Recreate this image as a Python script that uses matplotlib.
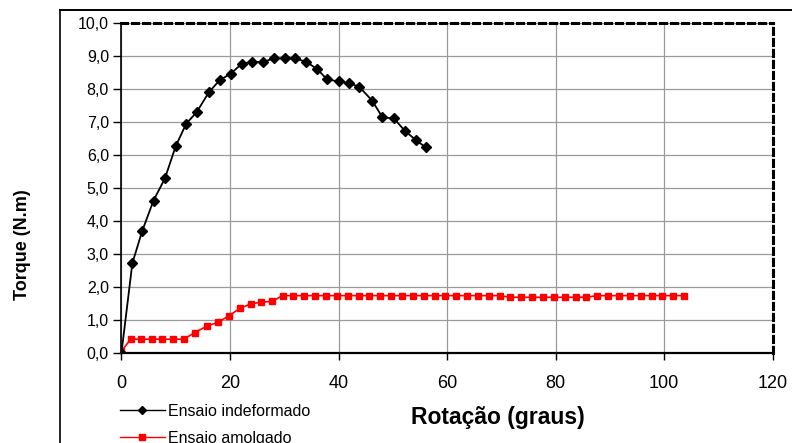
import matplotlib
matplotlib.use("Agg")
import matplotlib.pyplot as plt
from matplotlib.lines import Line2D
from matplotlib.ticker import FuncFormatter, MultipleLocator

# Ensaio indeformado (undisturbed sample)
rot_indef = [0.0, 2.0, 3.8, 5.9, 8.0, 10.0, 11.9, 13.9, 16.1, 18.1, 20.1, 22.2,
             24.1, 26.1, 28.1, 30.1, 32.0, 34.1, 36.1, 37.9, 40.0, 42.0, 43.8,
             46.2, 48.1, 50.2, 52.2, 54.2, 56.1]
torque_indef = [0.0, 2.71, 3.68, 4.61, 5.28, 6.26, 6.93, 7.30, 7.89, 8.26, 8.45, 8.76,
                8.81, 8.81, 8.92, 8.92, 8.92, 8.81, 8.59, 8.28, 8.22, 8.16, 8.06,
                7.64, 7.13, 7.10, 6.73, 6.45, 6.22]

# Ensaio amolgado (remoulded sample)
rot_amol = [0.0, 1.7, 3.6, 5.6, 7.5, 9.5, 11.5, 13.5, 15.8, 17.8, 19.8, 21.8, 23.8,
            25.8, 27.8, 29.7, 31.7, 33.7, 35.7, 37.7, 39.7, 41.7, 43.7, 45.7, 47.7,
            49.7, 51.7, 53.7, 55.7, 57.7, 59.7, 61.7, 63.7, 65.7, 67.7, 69.7, 71.7,
            73.7, 75.7, 77.7, 79.7, 81.7, 83.7, 85.7, 87.7, 89.7, 91.7, 93.7, 95.7,
            97.7, 99.7, 101.7, 103.7]
torque_amol = [0.05, 0.41, 0.41, 0.41, 0.41, 0.41, 0.41, 0.61, 0.81, 0.92, 1.12, 1.34,
               1.48, 1.53, 1.56, 1.73, 1.73, 1.73, 1.73, 1.73, 1.73, 1.73, 1.73, 1.73,
               1.73, 1.73, 1.73, 1.73, 1.73, 1.73, 1.73, 1.73, 1.73, 1.73, 1.73, 1.73,
               1.68, 1.68, 1.68, 1.68, 1.68, 1.68, 1.68, 1.68, 1.73, 1.73, 1.73, 1.73,
               1.73, 1.73, 1.73, 1.73, 1.73]

label_indef = "Ensaio indeformado"
label_amol = "Ensaio amolgado"
x_label = "Rotação (graus)"
y_label = "Torque (N.m)"

plt.rcParams["font.family"] = ["Liberation Sans", "DejaVu Sans"]

fig = plt.figure(figsize=(7.92, 4.43), dpi=100)
ax = fig.add_axes([0.1534, 0.2038, 0.9754 - 0.1534, 0.9488 - 0.2038])

ax.plot(rot_indef, torque_indef, color="black", lw=1.3, marker="D", ms=5.5,
        mfc="black", mec="black", zorder=4)
ax.plot(rot_amol, torque_amol, color="#ff0000", lw=1.2, marker="s", ms=5,
        mfc="#ff0000", mec="#ff0000", zorder=3)

ax.set_xlim(0, 120)
ax.set_ylim(0, 10)
ax.xaxis.set_major_locator(MultipleLocator(20))
ax.yaxis.set_major_locator(MultipleLocator(1))
ax.yaxis.set_major_formatter(FuncFormatter(lambda v, p: f"{v:.1f}".replace(".", ",")))
ax.xaxis.set_major_formatter(FuncFormatter(lambda v, p: f"{v:.0f}"))

ax.grid(True, color="#9a9a9a", lw=0.9)
ax.set_axisbelow(True)

ax.tick_params(axis="y", direction="out", length=6, width=1, labelsize=11.5,
               pad=3, colors="black")
ax.tick_params(axis="x", direction="out", length=5, width=1, labelsize=13,
               pad=11, colors="black")

ax.spines["left"].set_linewidth(1.2)
ax.spines["bottom"].set_linewidth(1.6)
ax.spines["bottom"].set_linestyle((0, (3, 1)))
for s in ("top", "right"):
    ax.spines[s].set_linewidth(2.2)
    ax.spines[s].set_linestyle((0, (2, 1.6)))

fig.text(0.028, 0.447, y_label, rotation=90, ha="center", va="center",
         fontsize=13, fontweight="bold")
fig.text(0.628, 0.058, x_label, ha="center", va="center", fontsize=16.5,
         fontweight="bold")

# outer chart frame
fig.add_artist(Line2D([60 / 792, 60 / 792], [0, 1 - 10 / 443],
                      transform=fig.transFigure, color="black", lw=1.2))
fig.add_artist(Line2D([60 / 792, 1], [1 - 10 / 443, 1 - 10 / 443],
                      transform=fig.transFigure, color="black", lw=1.4))

handles = [
    Line2D([], [], color="black", lw=1.0, marker="D", ms=4.5, mfc="black", mec="black"),
    Line2D([], [], color="#ff0000", lw=1.0, marker="s", ms=4.5, mfc="#ff0000", mec="#ff0000"),
]
leg = fig.legend(handles, [label_indef, label_amol], loc="upper left",
                 bbox_to_anchor=(120 / 792, 1 - 404 / 443), frameon=False,
                 handlelength=2.8, handletextpad=0.2, labelspacing=0.75,
                 borderaxespad=0, borderpad=0,
                 prop={"size": 11.5})

fig.savefig("out.png", dpi=100)
